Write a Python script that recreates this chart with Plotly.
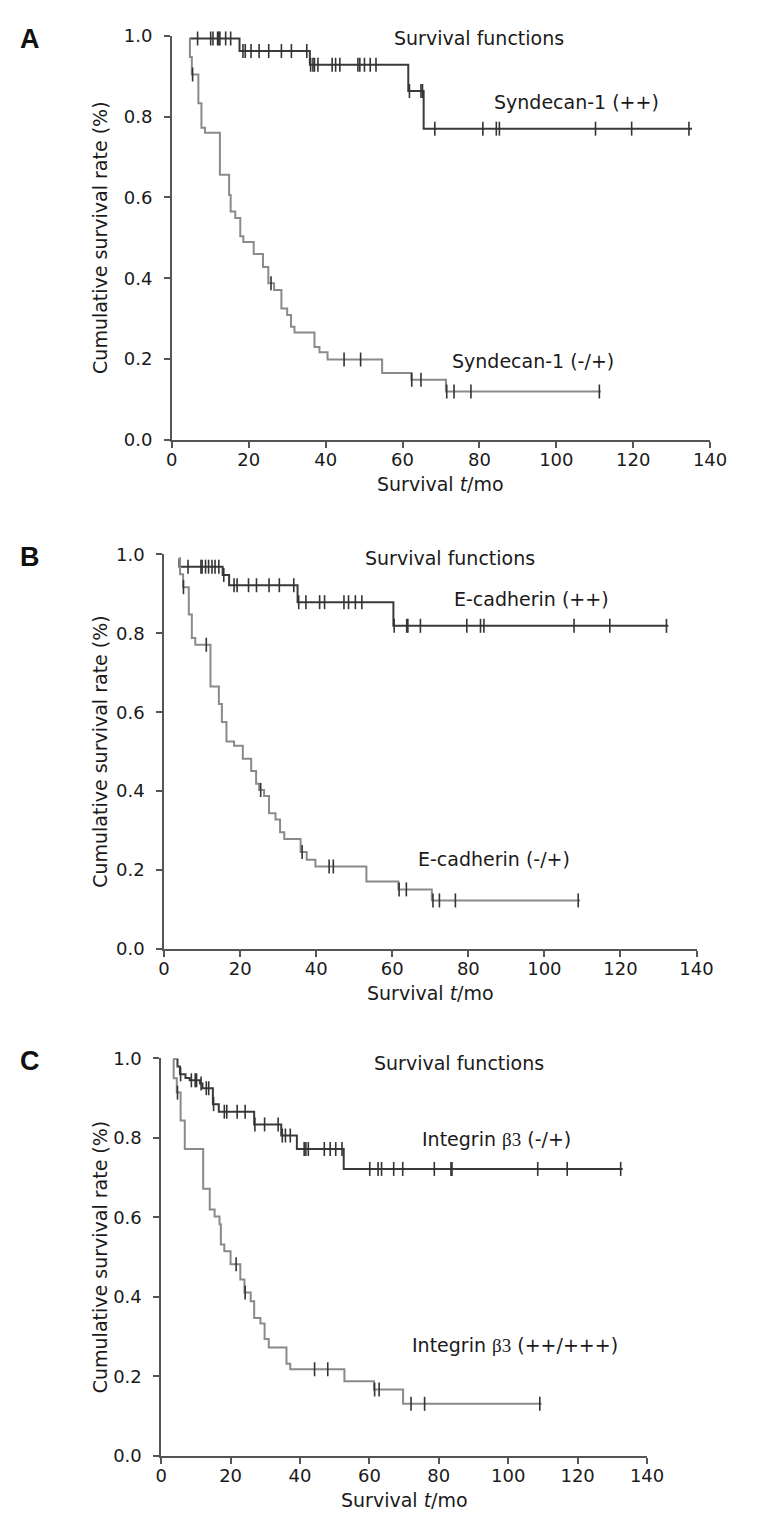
import numpy as np
import plotly.graph_objects as go

FONT = "DejaVu Sans"
W, H = 762, 1531
DARK = "#3a3a3a"
GRAY = "#8a8a8a"
AXC = "#555555"
TXT = "#1a1a1a"

# ---------------- Panel A : Syndecan-1 ----------------
a_hi_times = [4.6, 17.6, 35.9, 61.5, 65.5]
a_hi_surv = [0.993, 0.962, 0.928, 0.863, 0.770]
a_hi_end = 135.3
a_hi_cens = [6.7, 10.1, 10.7, 11.9, 12.2, 12.5, 14.0, 15.3, 18.5, 19.1, 20.6, 22.7,
             25.2, 28.5, 31.1, 35.1, 36.1, 36.7, 37.1, 38.0, 41.7, 42.6, 43.7, 48.4,
             48.9, 50.1, 51.6, 53.1, 61.8, 64.8, 65.2, 68.4, 80.9, 84.4, 85.2, 110.2,
             119.6, 134.5]

a_lo_times = [4.6, 4.7, 5.2, 6.9, 7.7, 8.6, 12.5, 14.9, 15.3, 16.5, 17.8, 18.6, 21.3,
              23.7, 25.1, 26.6, 28.5, 30.0, 31.0, 31.9, 37.1, 38.4, 40.5, 54.7, 62.3, 71.3]
a_lo_surv = [0.993, 0.947, 0.904, 0.833, 0.772, 0.760, 0.656, 0.606, 0.565, 0.549, 0.504,
             0.490, 0.460, 0.428, 0.388, 0.371, 0.325, 0.309, 0.280, 0.266, 0.230, 0.217,
             0.199, 0.166, 0.149, 0.120]
a_lo_end = 111.6
a_lo_cens = [5.4, 25.8, 44.8, 49.1, 62.4, 64.8, 71.5, 73.4, 77.8, 111.2]

# ---------------- Panel B : E-cadherin ----------------
b_hi_times = [3.9, 4.0, 15.4, 17.1, 35.1, 60.3]
b_hi_surv = [0.99, 0.969, 0.948, 0.922, 0.879, 0.819]
b_hi_end = 132.6
b_hi_cens = [6.3, 9.7, 10.0, 10.9, 11.7, 12.6, 13.4, 14.4, 15.7, 18.4, 19.2, 22.2, 24.3,
             27.6, 30.3, 34.1, 35.4, 37.3, 40.9, 42.2, 47.3, 48.5, 50.3, 52.0, 60.5, 63.8,
             64.1, 67.4, 79.6, 83.2, 84.1, 107.8, 117.2, 132.1]

b_lo_times = [3.9, 4.2, 5.0, 6.5, 7.3, 8.2, 12.2, 14.4, 15.2, 16.4, 18.4, 20.7, 22.9, 24.2,
              25.0, 26.3, 27.6, 29.3, 30.5, 31.6, 35.9, 37.5, 39.8, 53.2, 61.6, 70.4]
b_lo_surv = [0.99, 0.95, 0.917, 0.848, 0.788, 0.771, 0.665, 0.621, 0.575, 0.526, 0.515,
             0.482, 0.451, 0.419, 0.403, 0.388, 0.344, 0.328, 0.296, 0.279, 0.246, 0.226,
             0.209, 0.171, 0.151, 0.123]
b_lo_end = 109.4
b_lo_cens = [5.1, 11.1, 25.4, 36.3, 43.4, 44.5, 61.8, 63.7, 70.7, 72.4, 76.6, 108.9]

# ---------------- Panel C : Integrin beta3 ----------------
c_hi_times = [3.5, 4.7, 5.4, 7.0, 8.2, 11.2, 11.9, 14.9, 16.6, 26.8, 34.6, 39.1, 52.6]
c_hi_surv = [1.0, 0.98, 0.96, 0.951, 0.945, 0.937, 0.925, 0.885, 0.866, 0.834, 0.806,
             0.772, 0.722]
c_hi_end = 133.0
c_hi_cens = [5.6, 8.7, 9.8, 10.2, 11.5, 13.0, 13.7, 15.1, 18.2, 18.9, 21.9, 24.2, 27.0,
             29.8, 33.7, 34.9, 35.8, 37.2, 41.2, 41.7, 42.4, 47.0, 48.7, 50.3, 52.1, 60.1,
             62.5, 63.5, 67.0, 69.6, 78.7, 83.5, 83.8, 108.5, 117.0, 132.4]

c_lo_times = [3.5, 3.6, 4.5, 5.6, 6.8, 12.1, 14.0, 15.4, 16.8, 17.2, 18.2, 20.0, 22.8,
              24.0, 25.8, 26.8, 28.6, 29.8, 31.0, 36.1, 37.2, 52.8, 61.3, 69.7]
c_lo_surv = [1.0, 0.95, 0.914, 0.844, 0.772, 0.672, 0.62, 0.602, 0.583, 0.532, 0.515,
             0.482, 0.444, 0.411, 0.389, 0.347, 0.333, 0.294, 0.273, 0.232, 0.218, 0.188,
             0.167, 0.131]
c_lo_end = 109.6
c_lo_cens = [4.7, 21.6, 24.2, 44.2, 48.0, 61.5, 62.8, 72.0, 75.9, 109.1]

x_ticks = [0, 20, 40, 60, 80, 100, 120, 140]
y_ticks = [0.0, 0.2, 0.4, 0.6, 0.8, 1.0]

panel_letters = ["A", "B", "C"]
labels_hi = ["Syndecan-1 (++)", "E-cadherin (++)",
             "Integrin <span style='font-family:Liberation Serif'>β3</span> (-/+)"]
labels_lo = ["Syndecan-1 (-/+)", "E-cadherin (-/+)",
             "Integrin <span style='font-family:Liberation Serif'>β3</span> (++/+++)"]
title_txt = "Survival functions"
x_title = "Survival <i>t</i>/mo"
y_title = "Cumulative survival rate (%)"

# layout geometry in pixels (left, right, top, bottom of each plot area)
boxes = [(171, 726, 25, 435), (163, 712, 551, 951), (160, 661, 1062, 1465)]
# label anchor positions (data coords): title, hi label, lo label
label_pos = [
    [(79.8, 0.993), (105.2, 0.837), (93.9, 0.195)],
    [(75.3, 0.990), (96.7, 0.888), (86.7, 0.2275)],
    [(85.8, 0.988), (96.5, 0.797), (102.0, 0.278)],
]

curves = [
    ((a_hi_times, a_hi_surv, a_hi_end, a_hi_cens), (a_lo_times, a_lo_surv, a_lo_end, a_lo_cens)),
    ((b_hi_times, b_hi_surv, b_hi_end, b_hi_cens), (b_lo_times, b_lo_surv, b_lo_end, b_lo_cens)),
    ((c_hi_times, c_hi_surv, c_hi_end, c_hi_cens), (c_lo_times, c_lo_surv, c_lo_end, c_lo_cens)),
]


def step_xy(times, surv, end):
    return list(times) + [end], list(surv) + [surv[-1]]


def censor_y(times, surv, cens):
    idx = np.searchsorted(np.array(times), np.array(cens), side="right") - 1
    idx = np.clip(idx, 0, len(surv) - 1)
    return list(np.array(surv)[idx])


fig = go.Figure()
annotations = []
layout_axes = {}

for i, (box, pair) in enumerate(zip(boxes, curves)):
    n = "" if i == 0 else str(i + 1)
    xa, ya = "x" + n, "y" + n
    l, r, t, b = box
    for (times, surv, end, cens), col in zip(pair, [DARK, GRAY]):
        xs, ys = step_xy(times, surv, end)
        fig.add_trace(go.Scatter(x=xs, y=ys, mode="lines", line=dict(color=col, width=2, shape="hv"),
                                 xaxis=xa, yaxis=ya, showlegend=False, cliponaxis=False,
                                 hoverinfo="skip"))
        fig.add_trace(go.Scatter(x=cens, y=censor_y(times, surv, cens), mode="markers",
                                 marker=dict(symbol="line-ns", size=10,
                                             line=dict(color="#333333", width=1.6)),
                                 xaxis=xa, yaxis=ya, showlegend=False, cliponaxis=False,
                                 hoverinfo="skip"))
    common = dict(showline=True, linecolor=AXC, linewidth=1.6, ticks="outside", ticklen=6,
                  tickcolor=AXC, tickwidth=1.5, showgrid=False, zeroline=False,
                  tickfont=dict(family=FONT, size=18, color=TXT))
    layout_axes["xaxis" + n] = dict(common, range=[0, 140], tickvals=x_ticks,
                                    domain=[l / W, r / W], anchor=ya, ticklabelstandoff=-3)
    layout_axes["yaxis" + n] = dict(common, range=[0, 1], tickvals=y_ticks, tickformat=".1f",
                                    domain=[1 - b / H, 1 - t / H], anchor=xa,
                                    ticklabelstandoff=8)
    texts = [title_txt, labels_hi[i], labels_lo[i]]
    for txt, (px, py) in zip(texts, label_pos[i]):
        annotations.append(dict(x=px, y=py, xref=xa, yref=ya, text=txt, showarrow=False,
                                xanchor="center", yanchor="middle",
                                font=dict(family=FONT, size=19, color=TXT)))
    # axis titles
    annotations.append(dict(x=(l + r) / 2 / W, y=1 - (b + 45) / H, xref="paper", yref="paper",
                            text=x_title, showarrow=False, xanchor="center", yanchor="middle",
                            font=dict(family=FONT, size=19, color=TXT)))
    annotations.append(dict(x=97 / W, y=1 - (t + b) / 2 / H, xref="paper", yref="paper",
                            text=y_title, showarrow=False, textangle=-90,
                            xanchor="center", yanchor="middle",
                            font=dict(family=FONT, size=19, color=TXT)))
    annotations.append(dict(x=25 / W, y=1 - (t + 3) / H, xref="paper", yref="paper",
                            text="<b>" + panel_letters[i] + "</b>", showarrow=False,
                            xanchor="center", yanchor="middle",
                            font=dict(family="Liberation Sans", size=27, color="#111111")))

fig.update_layout(width=W, height=H, autosize=False, margin=dict(l=0, r=0, t=0, b=0),
                  paper_bgcolor="white", plot_bgcolor="white",
                  annotations=annotations, **layout_axes)

fig.write_html("out.html",
               config={"displayModeBar": False, "responsive": False},
               default_width="762px", default_height="1531px",
               post_script="document.body.style.margin='0';document.body.style.overflow='hidden';")
